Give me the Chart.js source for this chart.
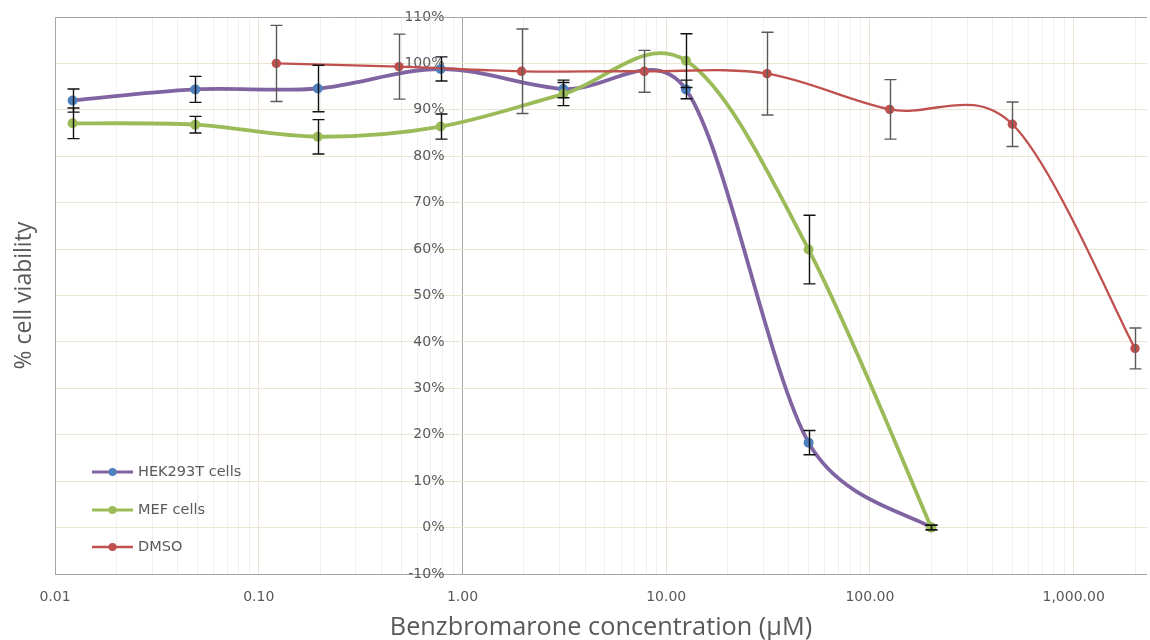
<!DOCTYPE html>
<html><head><meta charset="utf-8">
<script src="https://cdn.jsdelivr.net/npm/chart.js@4.4.1/dist/chart.umd.min.js"></script>
<style>html,body{margin:0;padding:0;background:#fff}#wrap{width:1150px;height:640px}</style>
</head><body><div id="wrap"><canvas id="c" width="1150" height="640"></canvas></div>
<script>
// ---- data ----
const hekConc = [0.0122, 0.0488, 0.195, 0.781, 3.125, 12.5, 50, 200];
const hekViability = [92.0, 94.4, 94.6, 98.8, 94.5, 94.4, 18.3, 0];
const hekError = [2.5, 2.8, 5.0, 2.6, 1.9, 2.0, 2.6, 0.5];

const mefConc = [0.0122, 0.0488, 0.195, 0.781, 3.125, 12.5, 50, 200];
const mefViability = [87.1, 86.8, 84.2, 86.4, 93.4, 100.6, 59.9, 0];
const mefError = [3.3, 1.8, 3.7, 2.7, 2.5, 5.8, 7.4, 0.5];

const dmsoConc = [0.122, 0.488, 1.95, 7.81, 31.25, 125, 500, 2000];
const dmsoViability = [100, 99.3, 98.3, 98.3, 97.8, 90.1, 86.9, 38.6];
const dmsoError = [8.2, 7.0, 9.1, 4.5, 8.9, 6.4, 4.8, 4.4];

const seriesNames = ['HEK293T cells', 'MEF cells', 'DMSO'];
const xMajorTicks = [0.01, 0.1, 1, 10, 100, 1000];
const xTickLabels = ['0.01', '0.10', '1.00', '10.00', '100.00', '1,000.00'];
const yTickValues = [-10, 0, 10, 20, 30, 40, 50, 60, 70, 80, 90, 100, 110];
const xTitle = 'Benzbromarone concentration (\u00B5M)';
const yTitle = '% cell viability';

// ---- layout / style constants ----
const X_MIN = 0.01, X_MAX = 2290;
const Y_CROSS = 1;                       // value axis crosses at x = 1
const Y_LABEL_AT = 0.816;                // label anchor just left of the crossing
const GRAY = '#595959';
const gridTicks = [];
xMajorTicks.forEach(d => { for (let m = 1; m <= 9; m++) { const v = m === 1 ? d : m * d; if (v <= X_MAX) gridTicks.push(v); } });
const pts = (xs, ys) => xs.map((c, i) => ({x: c, y: ys[i]}));

// Excel-like smoothing: control handles = (next - prev) / 6, limited by adjacent segment length
const SMOOTH = 1 / 6, HANDLE_LIMIT = 0.45;
const excelSmooth = {
  id: 'excelSmooth',
  beforeDatasetDraw(chart, args) {
    const meta = args.meta; const line = meta.dataset;
    if (!line) return;
    line.updateControlPoints(chart.chartArea, meta.iScale.axis);
    const p = meta.data;
    for (let i = 0; i < p.length; i++) {
      const prev = p[i - 1] || p[i], next = p[i + 1] || p[i];
      const dx = (next.x - prev.x) * SMOOTH, dy = (next.y - prev.y) * SMOOTH;
      const h = Math.hypot(dx, dy) || 1;
      const dPrev = Math.hypot(p[i].x - prev.x, p[i].y - prev.y);
      const dNext = Math.hypot(next.x - p[i].x, next.y - p[i].y);
      const fPrev = Math.min(1, HANDLE_LIMIT * dPrev / h) || 0;
      const fNext = Math.min(1, HANDLE_LIMIT * dNext / h) || 0;
      p[i].cp1x = p[i].x - dx * (i === 0 ? 1 : fPrev); p[i].cp1y = p[i].y - dy * (i === 0 ? 1 : fPrev);
      p[i].cp2x = p[i].x + dx * (i === p.length - 1 ? 1 : fNext); p[i].cp2y = p[i].y + dy * (i === p.length - 1 ? 1 : fNext);
    }
    line._path = undefined;
  }
};

const errorBarPlugin = {
  id: 'errorBars',
  afterDatasetsDraw(chart) {
    const {ctx} = chart; const x = chart.scales.x, y = chart.scales.y;
    chart.data.datasets.forEach(ds => {
      if (!ds.errors) return;
      ctx.save(); ctx.strokeStyle = ds.errorColor; ctx.lineWidth = 1.4;
      ds.data.forEach((p, j) => {
        const e = ds.errors[j];
        const px = Math.round(x.getPixelForValue(p.x)) + 0.5;
        const y1 = y.getPixelForValue(p.y + e), y2 = y.getPixelForValue(p.y - e);
        ctx.beginPath();
        ctx.moveTo(px, y1); ctx.lineTo(px, y2);
        ctx.moveTo(px - 6, y1); ctx.lineTo(px + 6, y1);
        ctx.moveTo(px - 6, y2); ctx.lineTo(px + 6, y2);
        ctx.stroke();
      });
      ctx.restore();
    });
  }
};

const framePlugin = {
  id: 'frame',
  beforeDatasetsDraw(chart) {
    const {ctx, chartArea: a} = chart;
    ctx.save(); ctx.strokeStyle = '#a6a6a6'; ctx.lineWidth = 1;
    ctx.beginPath();
    ctx.moveTo(Math.round(a.left) + 0.5, a.bottom); ctx.lineTo(Math.round(a.left) + 0.5, Math.round(a.top) + 0.5);
    ctx.lineTo(a.right, Math.round(a.top) + 0.5);
    ctx.stroke(); ctx.restore();
  }
};

const insideLegend = {
  id: 'insideLegend',
  afterDraw(chart) {
    const {ctx, chartArea: a} = chart;
    const offs = [102, 64, 27];
    ctx.save();
    chart.data.datasets.forEach((ds, i) => {
      const yy = a.bottom - offs[i];
      const x0 = a.left + 37, x1 = a.left + 78;
      ctx.strokeStyle = ds.borderColor; ctx.lineWidth = Math.min(ds.borderWidth, 3);
      ctx.beginPath(); ctx.moveTo(x0, yy); ctx.lineTo(x1, yy); ctx.stroke();
      ctx.fillStyle = ds.pointBackgroundColor;
      ctx.beginPath(); ctx.arc((x0 + x1) / 2, yy, 4, 0, Math.PI * 2); ctx.fill();
      ctx.fillStyle = GRAY; ctx.font = '14.5px "DejaVu Sans"'; ctx.textBaseline = 'middle'; ctx.textAlign = 'left';
      ctx.fillText(ds.label, x1 + 5, yy);
    });
    ctx.restore();
  }
};

new Chart(document.getElementById('c'), {
  type: 'scatter',
  data: {
    datasets: [
      { label: seriesNames[0], data: pts(hekConc, hekViability), showLine: true, tension: 0.4,
        borderColor: '#8064a2', borderWidth: 3.8, backgroundColor: '#4f81bd',
        pointBackgroundColor: '#4f81bd', pointBorderColor: '#4f81bd', pointRadius: 5, pointBorderWidth: 0,
        errors: hekError, errorColor: '#111111', order: 3 },
      { label: seriesNames[1], data: pts(mefConc, mefViability), showLine: true, tension: 0.4,
        borderColor: '#9bbb59', borderWidth: 3.8, backgroundColor: '#9bbb59',
        pointBackgroundColor: '#9bbb59', pointBorderColor: '#9bbb59', pointRadius: 5, pointBorderWidth: 0,
        errors: mefError, errorColor: '#111111', order: 2 },
      { label: seriesNames[2], data: pts(dmsoConc, dmsoViability), showLine: true, tension: 0.4,
        borderColor: '#c0504d', borderWidth: 2.3, backgroundColor: '#c0504d',
        pointBackgroundColor: '#c0504d', pointBorderColor: '#c0504d', pointRadius: 4.7, pointBorderWidth: 0,
        errors: dmsoError, errorColor: '#5a5a5a', order: 1 }
    ]
  },
  options: {
    responsive: false, animation: false, events: [], devicePixelRatio: 1,
    layout: { autoPadding: false, padding: { top: 17, right: 0, bottom: 0, left: 0 } },
    plugins: { legend: { display: false }, tooltip: { enabled: false } },
    scales: {
      x: {
        type: 'logarithmic', position: 'bottom', min: X_MIN, max: X_MAX, bounds: 'data',
        afterBuildTicks: s => { s.ticks = gridTicks.map(v => ({value: v, major: xMajorTicks.includes(v)})); },
        afterFit: s => { s.height = 66; },
        grid: { drawTicks: false, lineWidth: 1,
          color: c => !c.tick ? '#f0f0f0' : (c.tick.value === Y_CROSS ? '#a6a6a6' : (xMajorTicks.includes(c.tick.value) ? '#ece5d5' : '#f0f0f0')) },
        border: { color: '#a6a6a6', width: 1 },
        ticks: { autoSkip: false, maxRotation: 0, minRotation: 0, padding: 15, color: GRAY,
          font: { family: 'DejaVu Sans', size: 14 },
          callback: v => { const k = xMajorTicks.indexOf(v); return k >= 0 ? xTickLabels[k] : ''; } },
        title: { display: true, text: xTitle, color: GRAY,
          font: { family: 'Open Sans', size: 25.3, lineHeight: 1 }, padding: { top: 0, bottom: 0 } }
      },
      y: {
        type: 'linear', position: { x: Y_LABEL_AT }, min: -10, max: 110,
        afterBuildTicks: s => { s.ticks = yTickValues.map(v => ({value: v})); },
        grid: { drawTicks: false, color: '#ece5d5' },
        border: { display: false },
        ticks: { padding: 0, color: GRAY, font: { family: 'DejaVu Sans', size: 14 }, callback: v => v + '%' }
      },
      yt: {
        type: 'linear', position: 'left', min: 0, max: 1,
        afterFit: s => { s.width = 55; },
        grid: { display: false }, border: { display: false }, ticks: { display: false },
        title: { display: true, text: yTitle, color: GRAY,
          font: { family: 'Open Sans', size: 23, lineHeight: 1 }, padding: { top: 12.5, bottom: 0 } }
      }
    }
  },
  plugins: [excelSmooth, framePlugin, errorBarPlugin, insideLegend]
});
</script>
</body></html>
